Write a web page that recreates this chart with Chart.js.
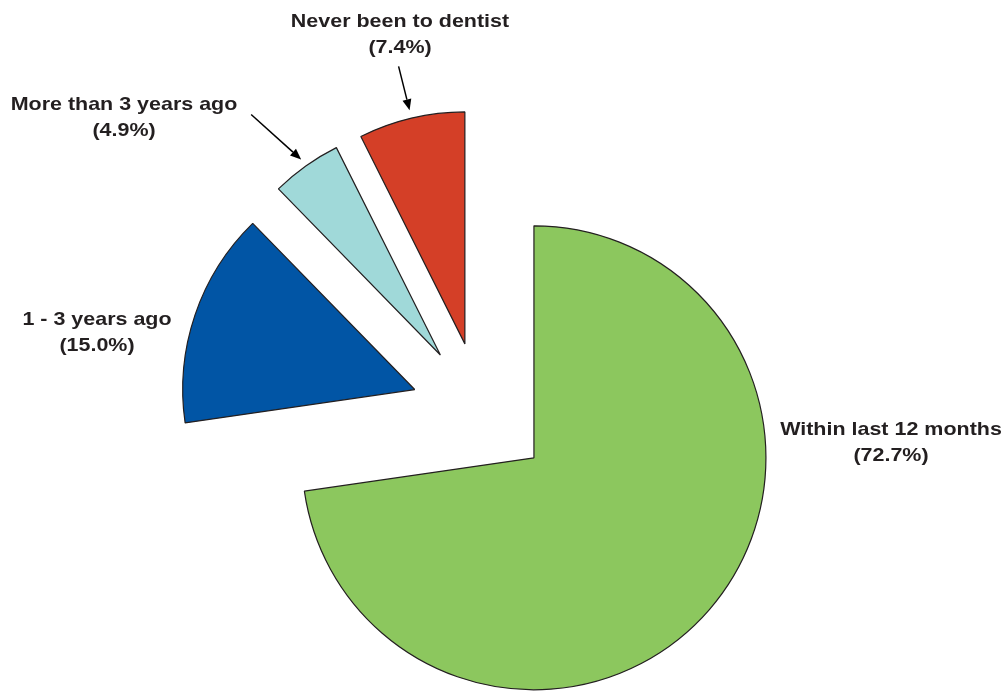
<!DOCTYPE html>
<html>
<head>
<meta charset="utf-8">
<script src="https://cdn.jsdelivr.net/npm/chart.js@4.4.0/dist/chart.umd.min.js"></script>
<style>
  html, body { margin: 0; background: #fff; }
  #wrap { width: 1008px; height: 693px; }
</style>
</head>
<body>
<div id="wrap"><canvas id="chart"></canvas></div>
<script>
const categories = ['Within last 12 months', '1 - 3 years ago', 'More than 3 years ago', 'Never been to dentist'];
const shares = [72.7, 15.0, 4.9, 7.4];
const sliceColors = ['#8cc75e', '#0155a5', '#a0d9d9', '#d43f27'];

// label position, measured from the pie centre
const labelOffsets = [[410, 18], [-384, -92], [-357, -307], [-81, -390]];
// arrow tail relative to its tip (null = no arrow)
const arrowTails = [null, null, [-50, -45], [-11, -44]];

const GAP = 70; // every slice is pulled out this far from the centre
const TEXT = '#231f20';
const STRETCH = 1.13; // labels are a bit wider than plain Arial bold

function sliceShift(arc) {
    const mid = (arc.startAngle + arc.endAngle) / 2;
    return { dx: Math.cos(mid) * GAP, dy: Math.sin(mid) * GAP, mid: mid };
}

// draw each arc moved outwards along its middle angle
const explodePlugin = {
    id: 'explode',
    beforeDatasetDraw(chart, args) {
        const ctx = chart.ctx;
        args.meta.data.forEach(function (arc) {
            const s = sliceShift(arc);
            ctx.save();
            ctx.translate(s.dx, s.dy);
            arc.draw(ctx);
            ctx.restore();
        });
        return false;
    }
};

function drawArrow(ctx, x1, y1, x2, y2) {
    const a = Math.atan2(y2 - y1, x2 - x1);
    const head = 11, half = 4.5;
    ctx.beginPath();
    ctx.moveTo(x1, y1);
    ctx.lineTo(x2 - Math.cos(a) * head, y2 - Math.sin(a) * head);
    ctx.stroke();
    ctx.beginPath();
    ctx.moveTo(x2, y2);
    ctx.lineTo(x2 - Math.cos(a) * head - Math.sin(a) * half, y2 - Math.sin(a) * head + Math.cos(a) * half);
    ctx.lineTo(x2 - Math.cos(a) * head + Math.sin(a) * half, y2 - Math.sin(a) * head - Math.cos(a) * half);
    ctx.closePath();
    ctx.fill();
}

function wideText(ctx, str, x, y) {
    ctx.save();
    ctx.translate(x, y);
    ctx.scale(STRETCH, 1);
    ctx.fillText(str, 0, 0);
    ctx.restore();
}

const labelPlugin = {
    id: 'sliceLabels',
    afterDatasetsDraw(chart) {
        const ctx = chart.ctx;
        const arcs = chart.getDatasetMeta(0).data;
        ctx.save();
        ctx.font = 'bold 19px "Liberation Sans", Arial, sans-serif';
        ctx.fillStyle = TEXT;
        ctx.textAlign = 'center';
        ctx.textBaseline = 'middle';
        arcs.forEach(function (arc, i) {
            const x = arc.x + labelOffsets[i][0];
            const y = arc.y + labelOffsets[i][1];
            wideText(ctx, categories[i], x, y);
            wideText(ctx, '(' + shares[i].toFixed(1) + '%)', x, y + 26);

            if (arrowTails[i]) {
                const s = sliceShift(arc);
                const r = arc.outerRadius + 8;
                const tx = arc.x + s.dx + Math.cos(s.mid) * r;
                const ty = arc.y + s.dy + Math.sin(s.mid) * r;
                ctx.strokeStyle = '#000';
                ctx.fillStyle = '#000';
                ctx.lineWidth = 1.5;
                drawArrow(ctx, tx + arrowTails[i][0], ty + arrowTails[i][1], tx, ty);
                ctx.fillStyle = TEXT;
            }
        });
        ctx.restore();
    }
};

new Chart(document.getElementById('chart').getContext('2d'), {
    type: 'pie',
    data: {
        labels: categories,
        datasets: [{
            data: shares,
            backgroundColor: sliceColors,
            borderColor: '#231f20',
            borderWidth: 1.2
        }]
    },
    options: {
        responsive: true,
        maintainAspectRatio: false,
        animation: false,
        events: [],
        radius: 232,
        layout: { padding: { left: 0, right: 46, top: 131, bottom: 0 } },
        plugins: {
            legend: { display: false },
            tooltip: { enabled: false }
        }
    },
    plugins: [explodePlugin, labelPlugin]
});
</script>
</body>
</html>
